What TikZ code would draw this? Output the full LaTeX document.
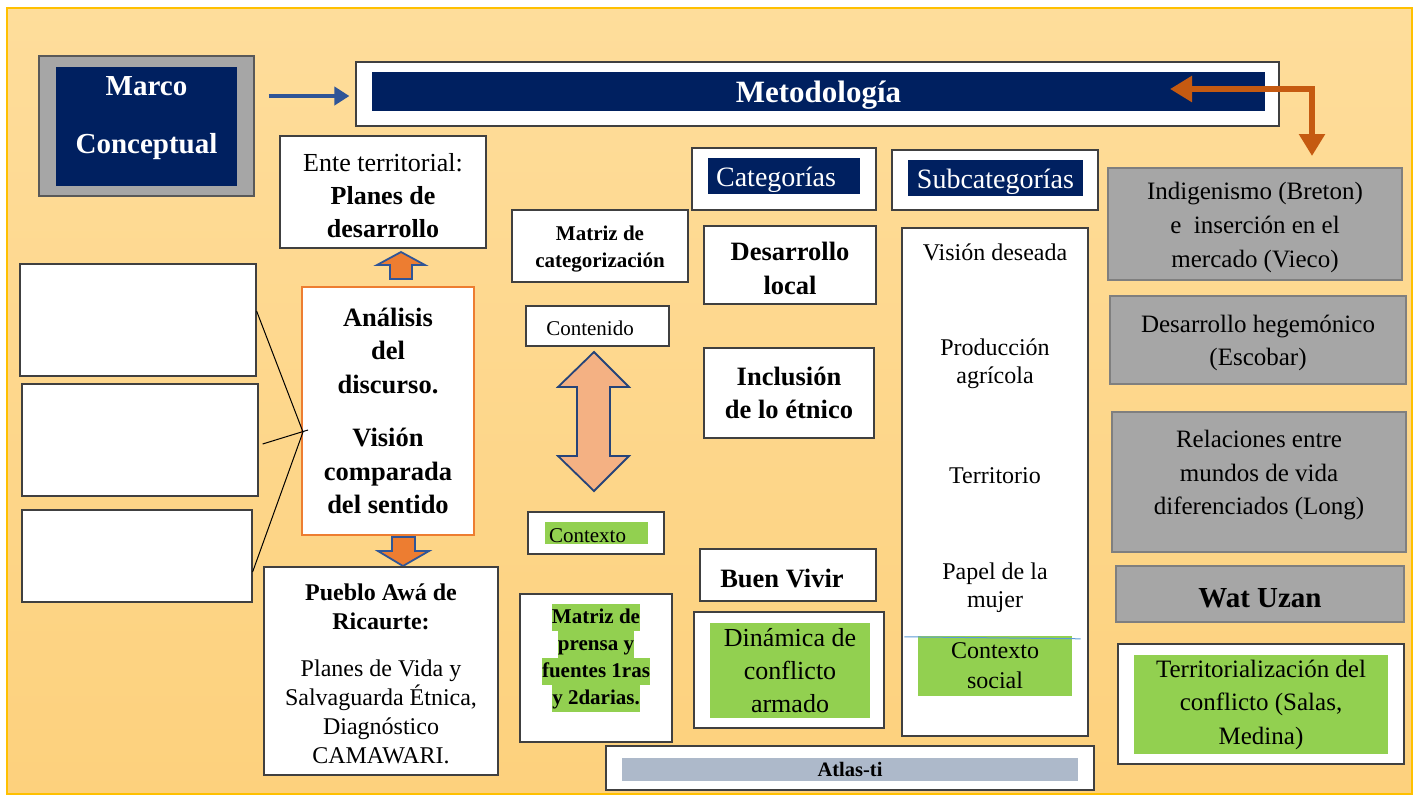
\documentclass[tikz,border=0pt]{standalone}
\usepackage{fontspec}
\setmainfont{Liberation Serif}
\usetikzlibrary{arrows.meta}

\definecolor{fondoA}{HTML}{FEDD9B}
\definecolor{fondoB}{HTML}{FDD17D}
\definecolor{amarillo}{HTML}{FFC000}
\definecolor{navy}{HTML}{002060}
\definecolor{edge}{HTML}{404040}
\definecolor{grisbox}{HTML}{A6A6A6}
\definecolor{grisline}{HTML}{7F7F7F}
\definecolor{verde}{HTML}{92D050}
\definecolor{naranja}{HTML}{ED7D31}
\definecolor{naranjaosc}{HTML}{C55A11}
\definecolor{durazno}{HTML}{F4B183}
\definecolor{azul}{HTML}{2F5597}
\definecolor{azulclaro}{HTML}{5B9BD5}
\definecolor{atlas}{HTML}{ADB9CA}

\newcommand\hl[1]{{\setlength\fboxsep{0pt}\colorbox{verde}{\strut #1}}}
\newcommand\hstrut{\rule{0pt}{0.95em}}

\begin{document}
\begin{tikzpicture}[x=1pt,y=-1pt,
  ws/.style={execute at begin node={\hstrut}},
  box/.style={draw=edge, fill=white, line width=1.2pt, inner sep=0pt, align=center, ws},
  graybox/.style={box, fill=grisbox, draw=grisline, line width=2pt},
  navybox/.style={fill=navy, text=white, inner sep=0pt, align=center, ws},
  greenbox/.style={fill=verde, inner sep=0pt, align=center, ws},
  hd/.style={font=\fontsize{26.5}{33.5}\selectfont\bfseries},
  tx/.style={font=\fontsize{25}{33.5}\selectfont},
  sub/.style={font=\fontsize{24}{28}\selectfont, align=center, inner sep=0pt},
  sm/.style={font=\fontsize{21}{27}\selectfont},
  blk/.style={fill=naranja, draw=azul, line width=1.8pt},
]
\useasboundingbox (0,0) rectangle (1421,796);
\shadedraw[top color=fondoA, bottom color=fondoB, draw=amarillo, line width=2pt] (7,8) rectangle (1412,794);

\node[box, fill=grisbox, draw=gray!70!black, line width=1.8pt, minimum width=215, minimum height=140] (marco) at (146.5,126) {};
\node[navybox, minimum width=181, minimum height=119] (marcoin) at (146.5,126.5) {};
\node[text=white, align=center, font=\fontsize{29}{34}\selectfont\bfseries] at ([yshift=8pt]marcoin.center) {Marco\\[24pt]Conceptual};

\node[box, minimum width=923, minimum height=64] (meto) at (817.5,94) {};
\node[navybox, minimum width=893, minimum height=39, font=\fontsize{31}{36}\selectfont\bfseries] (metoin) at (818.5,91.5) {Metodología};

\draw[-{Triangle[length=15pt,width=18pt]}, azul, line width=4.5pt, shorten <=14pt, shorten >=6pt] ([yshift=-2pt]marco.east |- meto.west) -- ([yshift=-2pt]meto.west);

\coordinate (oi) at (1170,89);
\coordinate (od) at (1312,156);
\draw[{Triangle[length=22pt,width=25pt]}-{Triangle[length=22pt,width=25pt]}, naranjaosc, line width=5.5pt] (oi) -| (od);

\node[box, font=\fontsize{26}{33}\selectfont, minimum width=206, minimum height=112] (ente) at (383,192) {\hstrut Ente territorial:\\\textbf{Planes de}\\\textbf{desarrollo}};
\draw[blk] (401,252) -- (425,265) -- (412,265) -- (412,279) -- (390,279) -- (390,265) -- (377,265) -- cycle;

\node[box, hd, draw=naranja, line width=2.5pt, minimum width=172, minimum height=248] (anal) at (388,411) {Análisis\\del\\discurso.\\[20pt]Visión\\comparada\\del sentido};
\draw[blk] (392,537) -- (415,537) -- (415,551) -- (429,551) -- (403,566) -- (378,551) -- (392,551) -- cycle;

\node[box, minimum width=236, minimum height=112] (b1) at (138,320) {};
\node[box, minimum width=236, minimum height=112] (b2) at (140,440) {};
\node[box, minimum width=230, minimum height=92] (b3) at (137,556) {};
\coordinate (j) at (303,432);
\draw[line width=1pt] ([yshift=9pt]b1.east) -- (j);
\draw[line width=1pt] ([xshift=4pt,yshift=-4pt]b2.east) -- ([xshift=5pt,yshift=2pt]j);
\draw[line width=1pt] ([yshift=-16pt]b3.east) -- (j);

\node[box, font=\fontsize{24}{29}\selectfont, minimum width=234, minimum height=208] (pueblo) at (381,671) {\hstrut\textbf{Pueblo Awá de}\\\textbf{Ricaurte:}\\[18pt]Planes de Vida y\\Salvaguarda Étnica,\\Diagnóstico\\CAMAWARI.};

\node[box, sm, font=\fontsize{21}{27}\selectfont\bfseries, minimum width=176, minimum height=72] (matcat) at (600,246) {\hstrut Matriz de\\categorización};
\node[box, sm, minimum width=143, minimum height=40] (cont) at (597.5,326) {Contenido\hspace{15pt}};
\draw[blk, fill=durazno, draw=azul!80!black] (594,352) -- (629,387) -- (610,387) -- (610,456) -- (629,456) -- (594,491) -- (558,456) -- (577,456) -- (577,387) -- (558,387) -- cycle;
\node[box, minimum width=136, minimum height=42] (ctx) at (596,533) {};
\node[greenbox, sm, minimum width=103, minimum height=22] (ctxin) at (596.5,533) {Contexto\hspace{18pt}};
\node[box, minimum width=152, minimum height=148] (prensa) at (596,668) {};
\node[align=center, anchor=north, inner sep=0pt, font=\fontsize{21}{27}\selectfont\bfseries] (prensatx) at (596,604) {\hl{Matriz de}\\\hl{prensa y}\\\hl{fuentes 1ras}\\\hl{y 2darias.}};

\node[box, minimum width=184, minimum height=62] (categ) at (784,179) {};
\node[navybox, minimum width=152, minimum height=36, font=\fontsize{28}{32}\selectfont] (categin) at (784,176) {Categorías\hspace{16pt}};
\node[box, minimum width=206, minimum height=60] (subcat) at (995,180) {};
\node[navybox, minimum width=175, minimum height=36, font=\fontsize{28}{32}\selectfont] (subcatin) at (995.5,178) {Subcategorías};

\node[box, hd, minimum width=172, minimum height=78] (desloc) at (790,265) {\hstrut Desarrollo\\local};
\node[box, hd, minimum width=170, minimum height=90] (incl) at (789,393) {Inclusión\\de lo étnico};
\node[box, hd, minimum width=176, minimum height=52] (buen) at (788,575) {Buen Vivir\hspace{12pt}};
\node[box, minimum width=190, minimum height=116] (dinam) at (789,670) {};
\node[greenbox, tx, font=\fontsize{26}{33}\selectfont, minimum width=160, minimum height=95] (dinamin) at (790,670.5) {Dinámica de\\conflicto\\armado};

\node[box, minimum width=186, minimum height=508] (subcol) at (995,482) {};
\node[sub] (s1) at (995,252) {Visión deseada};
\node[sub] (s2) at (995,364) {Producción\\agrícola};
\node[sub] (s3) at (995,476) {Territorio};
\node[sub] (s4) at (995,588) {Papel de la\\mujer};
\node[greenbox, sub, font=\fontsize{24}{30}\selectfont, minimum width=154, minimum height=60] (s5) at (995,666) {Contexto\\social};
\draw[azulclaro, line width=1pt] (s5.north west -| subcol.west) ++(3,1) -- ([xshift=-8pt,yshift=-3pt]s5.north -| subcol.east);

\node[box, minimum width=488, minimum height=44] (atlas) at (850,768) {};
\node[fill=atlas, inner sep=0pt, minimum width=456, minimum height=23, font=\fontsize{20.5}{24}\selectfont\bfseries] (atlasin) at (850,769.5) {Atlas-ti};

\node[graybox, tx, font=\fontsize{25}{34}\selectfont, minimum width=294, minimum height=112] (indig) at (1255,224) {\hstrut Indigenismo (Breton)\\e~ inserción en el\\mercado (Vieco)};
\node[graybox, tx, minimum width=296, minimum height=88] (hegem) at (1258,340) {\hstrut Desarrollo hegemónico\\(Escobar)};
\node[graybox, minimum width=294, minimum height=140] (relac) at (1259,482) {};
\node[tx, align=center] (relactx) at (1259,472) {\hstrut Relaciones entre\\mundos de vida\\diferenciados (Long)};
\node[graybox, font=\fontsize{29}{34}\selectfont\bfseries, minimum width=288, minimum height=56] (wat) at (1260,594) {Wat Uzan};
\node[box, minimum width=286, minimum height=120] (terr) at (1261,704) {};
\node[greenbox, tx, minimum width=254, minimum height=99] (terrin) at (1261,704.5) {Territorialización del\\conflicto (Salas,\\Medina)};
\end{tikzpicture}
\end{document}
